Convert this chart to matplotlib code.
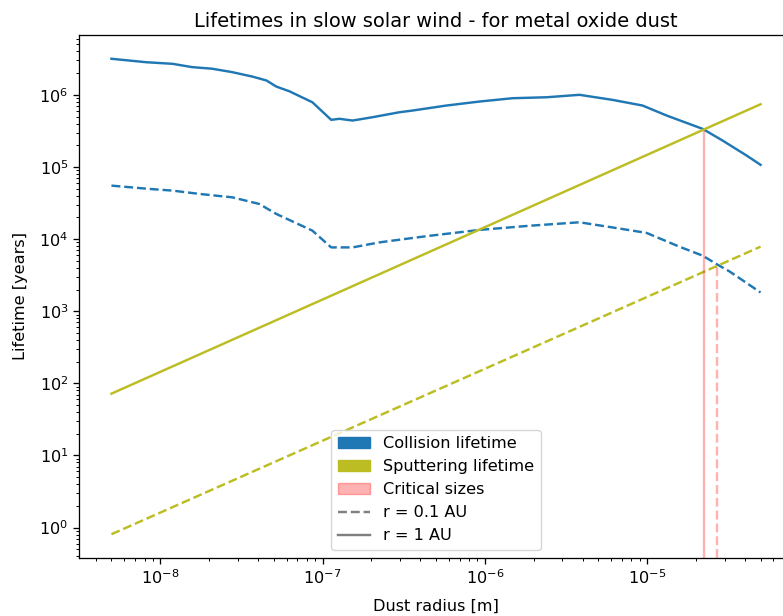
import matplotlib.pyplot as plt
import matplotlib.patches as mpatches
from matplotlib.lines import Line2D

# dust radius [m] and collision lifetime [years], r = 1 AU
coll_radius_1au = [5.0e-9, 8.2e-9, 1.19e-8, 1.57e-8, 2.09e-8, 2.78e-8, 3.69e-8, 4.51e-8,
                   5.19e-8, 6.24e-8, 8.65e-8, 1.13e-7, 1.27e-7, 1.53e-7, 2.03e-7, 2.97e-7,
                   3.58e-7, 5.79e-7, 9.27e-7, 1.48e-6, 2.40e-6, 3.83e-6, 6.12e-6, 9.38e-6,
                   1.32e-5, 2.20e-5, 2.92e-5, 4.10e-5, 5.0e-5]
coll_life_1au = [3.16e6, 2.83e6, 2.69e6, 2.42e6, 2.30e6, 2.06e6, 1.79e6, 1.58e6,
                 1.30e6, 1.12e6, 7.89e5, 4.50e5, 4.65e5, 4.40e5, 4.89e5, 5.73e5,
                 6.05e5, 7.10e5, 8.07e5, 8.97e5, 9.25e5, 1.00e6, 8.51e5, 7.10e5,
                 5.16e5, 3.37e5, 2.32e5, 1.44e5, 1.07e5]

# collision lifetime, r = 0.1 AU
coll_radius_01au = [5.0e-9, 8.55e-9, 1.19e-8, 1.74e-8, 2.78e-8, 4.07e-8, 5.19e-8, 8.65e-8,
                    1.13e-7, 1.53e-7, 2.24e-7, 2.97e-7, 4.55e-7, 9.27e-7, 1.88e-6, 3.83e-6,
                    6.12e-6, 9.9e-6, 1.58e-5, 2.20e-5, 2.68e-5, 3.22e-5, 5.0e-5]
coll_life_01au = [5.51e4, 4.96e4, 4.70e4, 4.23e4, 3.79e4, 3.07e4, 2.23e4, 1.31e4,
                  7.67e3, 7.67e3, 9.0e3, 9.8e3, 1.11e4, 1.34e4, 1.53e4, 1.71e4,
                  1.45e4, 1.22e4, 7.85e3, 5.89e3, 4.5e3, 3.56e3, 1.82e3]

# sputtering lifetime (straight lines in log-log)
sput_radius = [5.0e-9, 5.0e-5]
sput_life_1au = [72, 7.4e5]
sput_life_01au = [0.81, 7.85e3]

# critical sizes where the two lifetimes cross: [1 AU, 0.1 AU]
crit_radius = [2.25e-5, 2.68e-5]
crit_life = [3.2e5, 4.5e3]

c_coll = 'tab:blue'
c_sput = 'tab:olive'
c_crit = (1.0, 0.0, 0.0, 0.3)

# everything a bit larger than the defaults
s = 1.16
plt.rcParams.update({
    'font.size': 10 * s,
    'axes.titlesize': 12 * s,
    'lines.linewidth': 1.5 * s,
    'axes.linewidth': 0.8 * s,
    'xtick.major.size': 3.5 * s, 'ytick.major.size': 3.5 * s,
    'xtick.minor.size': 2 * s, 'ytick.minor.size': 2 * s,
    'xtick.major.width': 0.8 * s, 'ytick.major.width': 0.8 * s,
    'xtick.minor.width': 0.6 * s, 'ytick.minor.width': 0.6 * s,
})

fig = plt.figure(figsize=(7.83, 6.16), dpi=100)
ax = fig.add_axes([79 / 783, 58 / 616, 714 / 783, 523 / 616])

ax.loglog(coll_radius_1au, coll_life_1au, color=c_coll, linestyle='-')
ax.loglog(coll_radius_01au, coll_life_01au, color=c_coll, linestyle='--')
ax.loglog(sput_radius, sput_life_1au, color=c_sput, linestyle='-')
ax.loglog(sput_radius, sput_life_01au, color=c_sput, linestyle='--')

ylim = ax.get_ylim()
ax.vlines(crit_radius[0], ylim[0], crit_life[0], color=c_crit, linestyle='-')
ax.vlines(crit_radius[1], ylim[0], crit_life[1], color=c_crit, linestyle='--')
ax.set_ylim(ylim)

ax.set_title('Lifetimes in slow solar wind - for metal oxide dust')
ax.set_xlabel('Dust radius [m]', labelpad=8)
ax.set_ylabel('Lifetime [years]', labelpad=8)

handles = [
    mpatches.Patch(color=c_coll, label='Collision lifetime'),
    mpatches.Patch(color=c_sput, label='Sputtering lifetime'),
    mpatches.Patch(color=c_crit, label='Critical sizes'),
    Line2D([], [], color='gray', linestyle='--', label='r = 0.1 AU'),
    Line2D([], [], color='gray', linestyle='-', label='r = 1 AU'),
]
ax.legend(handles=handles, loc='lower center')

fig.savefig('out.png', dpi=100)
